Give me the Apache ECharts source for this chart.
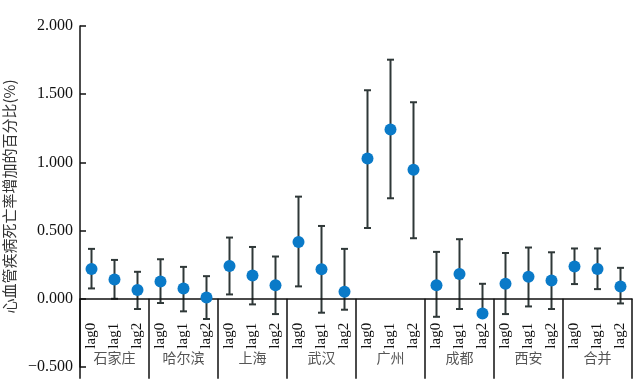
<!DOCTYPE html>
<html>
<head>
<meta charset="utf-8">
<script src="https://cdn.jsdelivr.net/npm/echarts@6/dist/echarts.min.js"></script>
<style>html,body{margin:0;padding:0;background:#fff;}#c{width:643px;height:383px;}</style>
</head>
<body>
<div id="c"></div>
<script>
var groups = ['石家庄','哈尔滨','上海','武汉','广州','成都','西安','合并'];
var lags = ['lag0','lag1','lag2'];
var estimates = [0.219,0.142,0.064, 0.127,0.076,0.010, 0.241,0.171,0.100, 0.417,0.217,0.051, 1.029,1.241,0.946, 0.100,0.181,-0.107, 0.110,0.161,0.135, 0.237,0.219,0.091];
var lowers = [0.076,0.000,-0.075, -0.031,-0.092,-0.148, 0.032,-0.041,-0.112, 0.091,-0.102,-0.080, 0.519,0.737,0.444, -0.132,-0.075,-0.120, -0.112,-0.056,-0.075, 0.108,0.071,-0.034];
var uppers = [0.366,0.285,0.198, 0.290,0.234,0.166, 0.449,0.380,0.310, 0.749,0.534,0.366, 1.529,1.753,1.441, 0.344,0.437,0.110, 0.336,0.376,0.341, 0.369,0.369,0.227];
var yTicks = [-0.5, 0, 0.5, 1.0, 1.5, 2.0];

var categories = [];
groups.forEach(function(){ lags.forEach(function(l){ categories.push(l); }); });
var errData = categories.map(function(c, i){ return [i, lowers[i], uppers[i]]; });
var ptData = categories.map(function(c, i){ return [i, estimates[i]]; });

var H = 383, gridTop = 26, gridBottom = 16;
var plotH = H - gridTop - gridBottom;
var zeroOffset = -plotH * (0 - yTicks[0]) / (yTicks[yTicks.length - 1] - yTicks[0]);

var chart = echarts.init(document.getElementById('c'));
var serif = '"Liberation Serif","DejaVu Serif",serif';
var cjk = '"Noto Sans CJK SC","Noto Sans",sans-serif';
chart.setOption({
  backgroundColor: '#ffffff',
  animation: false,
  grid: {left: 80, right: 11, top: gridTop, bottom: gridBottom, containLabel: false, outerBoundsMode: 'none'},
  xAxis: [{
    type: 'category',
    data: categories,
    boundaryGap: true,
    position: 'bottom',
    offset: zeroOffset,
    axisLine: {onZero: false, lineStyle: {color: '#111', width: 1.5}},
    axisTick: {show: true, inside: false, length: 80, lineStyle: {color: '#111', width: 1.5},
      interval: function(i){ return i % 3 === 0; }},
    axisLabel: {show: true, rotate: 90, margin: 24, interval: 0, hideOverlap: false, color: '#111', fontFamily: serif, fontSize: 15},
    z: 5
  }, {
    type: 'category',
    data: groups,
    position: 'bottom',
    axisLine: {show: false},
    axisTick: {show: false},
    axisLabel: {margin: -9, interval: 0, hideOverlap: false, color: '#555', fontFamily: cjk, fontSize: 14, verticalAlign: 'middle'}
  }],
  yAxis: {
    type: 'value',
    min: yTicks[0], max: yTicks[yTicks.length - 1], interval: 0.5,
    name: '心血管疾病死亡率增加的百分比(%)',
    nameLocation: 'middle',
    nameGap: 53,
    nameTextStyle: {color: '#333', fontFamily: cjk, fontSize: 15},
    axisLine: {show: true, onZero: false, lineStyle: {color: '#111', width: 1.5}},
    axisTick: {show: true, inside: true, length: 6, lineStyle: {color: '#111', width: 1.5}},
    splitLine: {show: false},
    axisLabel: {margin: 7, color: '#111', fontFamily: serif, fontSize: 16,
      formatter: function(v){ var s = Math.abs(v).toFixed(3); return v < 0 ? '\u2212' + s : s; }}
  },
  series: [{
    type: 'custom',
    xAxisIndex: 0,
    data: errData,
    z: 3,
    clip: false,
    renderItem: function(params, api){
      var x = api.value(0);
      var lo = api.coord([x, api.value(1)]);
      var hi = api.coord([x, api.value(2)]);
      var hw = 3.5;
      var st = {stroke: '#2f3838', lineWidth: 2};
      return {type: 'group', children: [
        {type: 'line', shape: {x1: lo[0], y1: lo[1], x2: hi[0], y2: hi[1]}, style: st},
        {type: 'line', shape: {x1: lo[0]-hw, y1: lo[1], x2: lo[0]+hw, y2: lo[1]}, style: st},
        {type: 'line', shape: {x1: hi[0]-hw, y1: hi[1], x2: hi[0]+hw, y2: hi[1]}, style: st}
      ]};
    }
  }, {
    type: 'scatter',
    xAxisIndex: 0,
    data: ptData,
    symbol: 'circle',
    symbolSize: 12,
    itemStyle: {color: '#0a7ac8', opacity: 1},
    z: 6
  }]
});
</script>
</body>
</html>
